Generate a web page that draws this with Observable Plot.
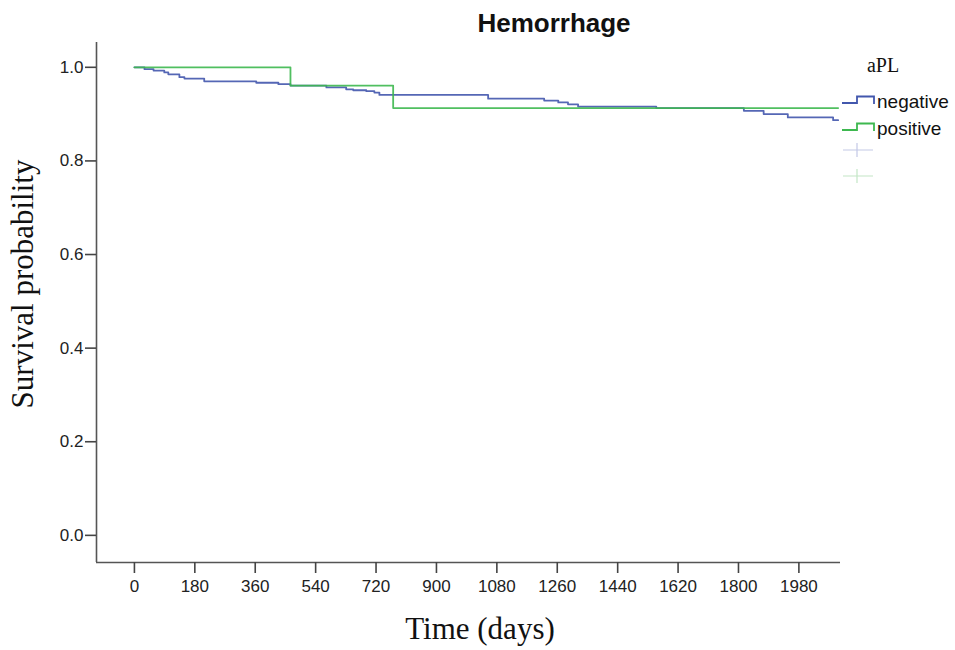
<!DOCTYPE html>
<html><head><meta charset="utf-8">
<script src="https://cdn.jsdelivr.net/npm/d3@7"></script>
<script src="https://cdn.jsdelivr.net/npm/@observablehq/plot@0.6"></script>
<style>
body{margin:0;background:#fff}
#wrap{position:relative;width:955px;height:650px;overflow:hidden}
.lab{position:absolute;white-space:nowrap;color:#111}
</style>
</head><body><div id="wrap"></div>
<script>
// ---- data ----
const title = "Hemorrhage";
const xLabel = "Time (days)";
const yLabel = "Survival probability";
const legendTitle = "aPL";
const groups = ["negative", "positive"];
const colors = ["#4257ad", "#3db84f"];
const censorColors = ["#c3c9e6", "#c3e6c6"];

const negTime = [0, 30, 57, 89, 101, 134, 149, 208, 363, 429, 465, 572, 631, 652, 691, 715, 730, 1054, 1221, 1263, 1292, 1322, 1555, 1816, 1875, 1947, 2082, 2097];
const negSurv = [1.0, 0.996, 0.993, 0.989, 0.985, 0.979, 0.976, 0.970, 0.967, 0.964, 0.961, 0.957, 0.953, 0.951, 0.949, 0.946, 0.941, 0.933, 0.929, 0.925, 0.921, 0.916, 0.913, 0.907, 0.900, 0.893, 0.887, 0.887];
const posTime = [0, 465, 771, 2097];
const posSurv = [1.0, 0.961, 0.913, 0.913];

const xTicks = [0, 180, 360, 540, 720, 900, 1080, 1260, 1440, 1620, 1800, 1980];
const yTicks = [0, 0.2, 0.4, 0.6, 0.8, 1.0];
const xDomain = [-113, 2104];
const yDomain = [-0.058, 1.053];

const rows = [
  ...negTime.map((t, i) => ({group: groups[0], time: t, surv: negSurv[i]})),
  ...posTime.map((t, i) => ({group: groups[1], time: t, surv: posSurv[i]}))
];

const tickFont = "'Liberation Sans Narrow', 'Arial Narrow', 'Liberation Sans', Arial, sans-serif";

const chart = Plot.plot({
  width: 955, height: 650,
  marginLeft: 96, marginRight: 115, marginTop: 42, marginBottom: 88,
  style: {fontFamily: tickFont, background: "white", color: "#222"},
  x: {domain: xDomain},
  y: {domain: yDomain},
  color: {domain: groups, range: colors},
  marks: [
    Plot.ruleX([xDomain[0]], {stroke: "#555", strokeWidth: 1.6}),
    Plot.ruleY([yDomain[0]], {stroke: "#555", strokeWidth: 1.6}),
    Plot.axisY(yTicks, {tickSize: 11, tickPadding: 2, fontSize: 17, stroke: "#444", strokeWidth: 1.6, tickFormat: d => d.toFixed(1), label: null}),
    Plot.axisX(xTicks, {tickSize: 11, tickPadding: 6, fontSize: 17, stroke: "#444", strokeWidth: 1.6, tickFormat: d => String(d), label: null}),
    Plot.line(rows, {x: "time", y: "surv", z: "group", stroke: "group", curve: "step-after", strokeWidth: 1.8, strokeOpacity: 0.9})
  ]
});

const wrap = document.getElementById("wrap");
chart.style.position = "absolute";
chart.style.left = "0px";
chart.style.top = "0px";
wrap.appendChild(chart);

function addLabel(text, css) {
  const d = document.createElement("div");
  d.className = "lab";
  d.textContent = text;
  Object.assign(d.style, css);
  wrap.appendChild(d);
  return d;
}
addLabel(title, {left: "554px", top: "23px", transform: "translate(-50%,-50%)", font: "bold 26px 'Liberation Sans', Arial, sans-serif"});
addLabel(xLabel, {left: "480px", top: "629px", transform: "translate(-50%,-50%)", font: "31px 'Liberation Serif', 'Times New Roman', serif"});
addLabel(yLabel, {left: "23px", top: "284px", transform: "translate(-50%,-50%) rotate(-90deg)", font: "31px 'Liberation Serif', 'Times New Roman', serif"});
addLabel(legendTitle, {left: "883px", top: "65px", transform: "translate(-50%,-50%)", font: "20px 'Liberation Serif', 'Times New Roman', serif"});

// legend symbols
const ns = "http://www.w3.org/2000/svg";
const leg = document.createElementNS(ns, "svg");
leg.setAttribute("width", "955"); leg.setAttribute("height", "650");
leg.style.position = "absolute"; leg.style.left = "0"; leg.style.top = "0";
const rowY = [103, 130];
const crossY = [150, 176];
groups.forEach((g, i) => {
  const y = rowY[i];
  const p = document.createElementNS(ns, "path");
  p.setAttribute("d", `M842,${y}H857V${y - 6.5}H874V${y + 1}`);
  p.setAttribute("fill", "none");
  p.setAttribute("stroke", colors[i]);
  p.setAttribute("stroke-width", "1.8");
  leg.appendChild(p);
  const c = document.createElementNS(ns, "path");
  const cy = crossY[i];
  c.setAttribute("d", `M843,${cy}H873M857,${cy - 7}V${cy + 7}`);
  c.setAttribute("stroke", censorColors[i]);
  c.setAttribute("stroke-width", "1.2");
  leg.appendChild(c);
  addLabel(g, {left: "877px", top: (y - 12) + "px", font: "19px 'Liberation Sans', Arial, sans-serif"});
});
wrap.appendChild(leg);
</script>
</body></html>
